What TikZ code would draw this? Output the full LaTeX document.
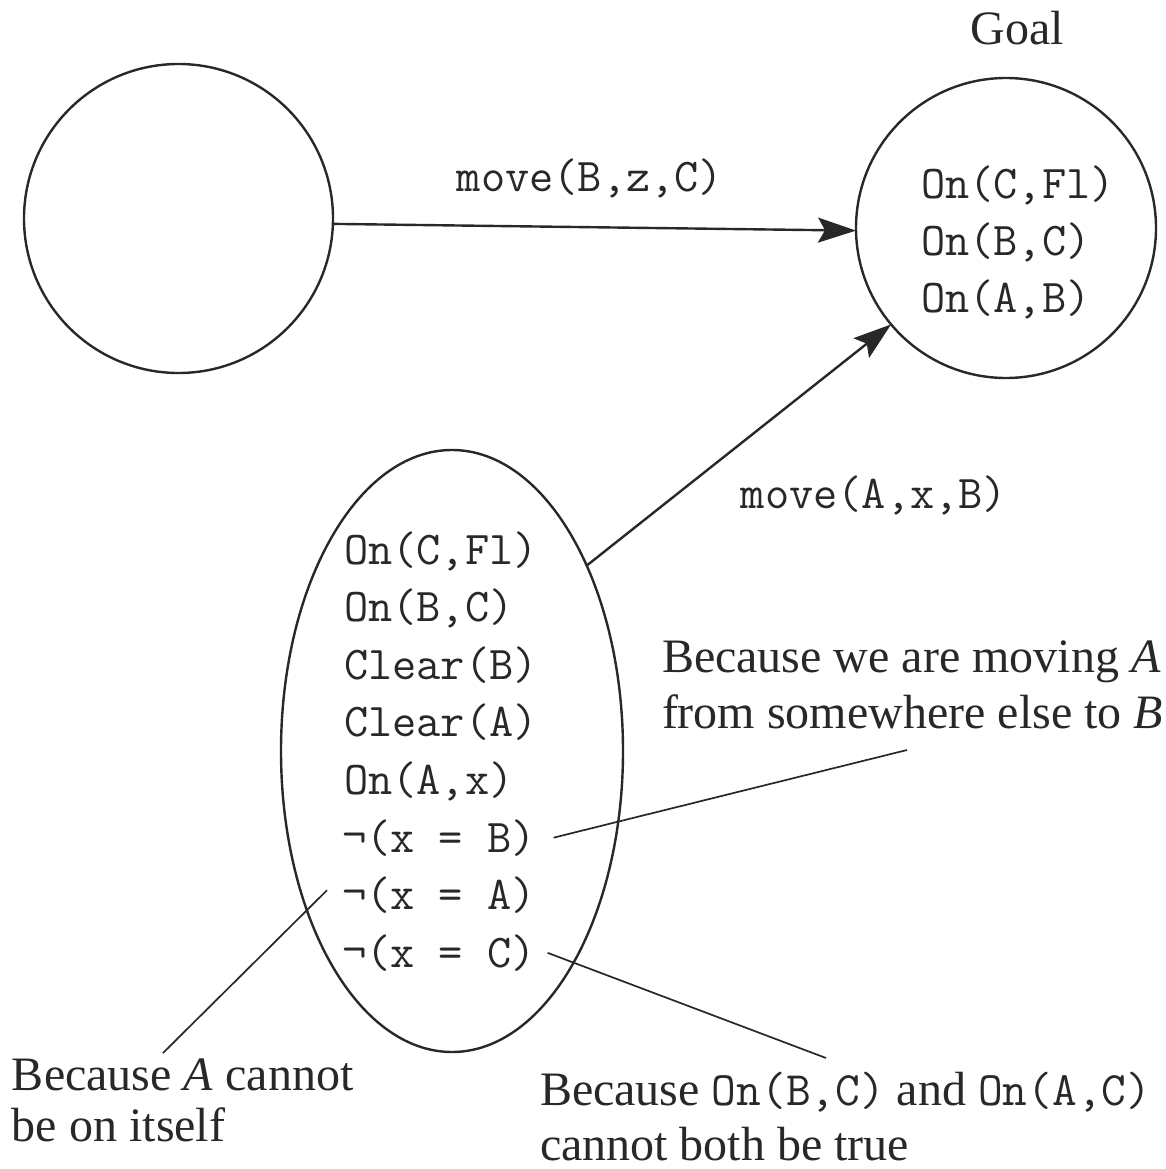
\documentclass[tikz,border=0pt]{standalone}
\usepackage{fontspec}
\setmainfont{Liberation Serif}
\usetikzlibrary{shapes.geometric,arrows.meta}
\definecolor{ink}{RGB}{40,40,40}
\begin{document}
\begin{tikzpicture}[x=1pt,y=-1pt,
  every node/.style={inner sep=0pt, outer sep=0pt, text=ink},
  state/.style={circle, draw=ink, line width=2.4pt, minimum size=#1},
  tt/.style={font=\fontsize{47}{57}\ttfamily, anchor=base west},
  note/.style={font=\fontsize{48}{55}\selectfont, anchor=base west},
  arr/.style={draw=ink, line width=2.4pt, -{Stealth[length=38pt,width=25pt,inset=7pt]}},
  lead/.style={draw=ink, line width=1.7pt}]
\fill[white] (0,0) rectangle (1165,1169);
\useasboundingbox (0,0) rectangle (1165,1169);

% states
\node[state=309pt] (init) at (178.5,218.5) {};
\node[state=300pt] (goal) at (1006,228) {};
\node[ellipse, draw=ink, line width=2.4pt, minimum width=342pt, minimum height=602pt] (ell) at (452,751) {};

% goal label and contents
\node[note, anchor=base] (goallabel) at (1017,45) {Goal};
\node[tt, anchor=west, align=left] (goaltext) at (921,242) {On(C,Fl)\\On(B,C)\\On(A,B)};

% ellipse contents
\node[tt] (l1) at (344,564) {On(C,Fl)};
\node[tt] (l2) at (344,621.6) {On(B,C)};
\node[tt] (l3) at (344,679.2) {Clear(B)};
\node[tt] (l4) at (344,736.8) {Clear(A)};
\node[tt] (l5) at (344,794.4) {On(A,x)};
\node[tt] (l6) at (342,852) {¬(x = B)};
\node[tt] (l7) at (342,909.6) {¬(x = A)};
\node[tt] (l8) at (342,967.2) {¬(x = C)};

% edge labels
\node[tt, anchor=base] (lab1) at (590,192) {move(B,z,C)};
\node[tt, anchor=base] (lab2) at (874,508) {move(A,x,B)};

% annotations
\node[note] (wb1) at (662,672) {Because we are moving \textit{A}};
\node[note] (wb2) at (662,728) {from somewhere else to \textit{B}};
\node[note] (wa1) at (12,1090) {Because \textit{A} cannot};
\node[note] (wa2) at (12,1141) {be on itself};
\node[note] (wc1) at (540,1105) {Because \texttt{On(B,C)} and \texttt{On(A,C)}};
\node[note] (wc2) at (540,1160) {cannot both be true};

% connectors
\draw[arr] (init.-2) -- (goal.181);
\draw[arr] (ell.54) -- (goal.220);

\coordinate (eB) at (907,750);
\coordinate (eA) at (163,1053);
\coordinate (eC) at (826,1058);
\draw[lead] ([xshift=18pt]l6.east) -- (eB);
\draw[lead] ([xshift=-15pt,yshift=5pt]l7.west) -- (eA);
\draw[lead] ([xshift=12pt]l8.east) -- (eC);
\end{tikzpicture}
\end{document}
